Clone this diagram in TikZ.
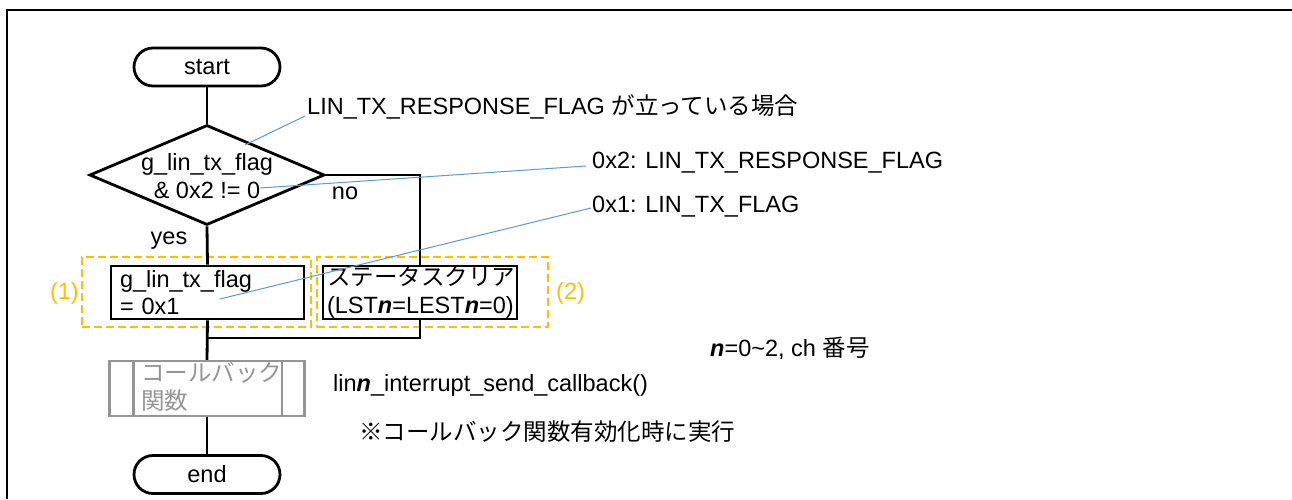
\documentclass[tikz,border=0pt]{standalone}
\usepackage{fontspec}
\setmainfont{Liberation Sans}
\newfontfamily\jp{Noto Sans CJK JP}
\usetikzlibrary{shapes.geometric}
\definecolor{flowblue}{HTML}{5B9BD5}
\definecolor{markorange}{HTML}{FFC000}
\definecolor{cbgray}{HTML}{959595}
\newcommand{\nvar}{\textbf{\textit{n}}}

\begin{document}
\begin{tikzpicture}[x=1pt,y=-1pt,
  every node/.style={font=\fontsize{23.5}{27.5}\selectfont, inner sep=0pt},
  flow/.style={line width=2.8pt},
  term/.style={draw, line width=2.8pt, rounded corners=19pt,
    minimum width=146pt, minimum height=38pt},
  decision/.style={draw, diamond, line width=2.8pt,
    minimum width=235pt, minimum height=100pt},
  proc/.style={draw, line width=2.8pt, minimum height=53pt, align=left},
  subproc/.style={draw=cbgray, line width=2.4pt, minimum width=195pt, minimum height=55pt},
  grp/.style={draw=markorange, line width=2.4pt, dash pattern=on 8pt off 4pt,
    minimum height=70pt},
  grplabel/.style={text=markorange},
  callout/.style={draw=flowblue, line width=1pt},
  note/.style={anchor=west, align=left}
]
\useasboundingbox (0,0) rectangle (1292,499);

% page frame (left and top edges)
\draw[line width=1.5pt] (7,499) -- (7,10) -- (1292,10);

% flowchart elements
\node[term] (start) at (207,67) {start};
\node[decision] (dec) at (207,175) {};
\node[align=center] (dectext) at (207,176) {g\_lin\_tx\_flag\\\& 0x2 != 0};

\node[proc, text width=175pt, inner xsep=9pt] (p1) at (207.5,292.5)
  {g\_lin\_tx\_flag\\= 0x1};
\node[proc, text width=186pt, inner xsep=4pt] (p2) at (420,292.5)
  {{\jp ステータスクリア}\\(LST\nvar=LEST\nvar=0)};

\node[subproc] (cb) at (207,388.5) {};
\draw[cbgray, line width=2.4pt] ([xshift=25pt]cb.north west) -- ([xshift=25pt]cb.south west);
\draw[cbgray, line width=2.4pt] ([xshift=-24pt]cb.north east) -- ([xshift=-24pt]cb.south east);
\node[note, text=cbgray] (cbtext) at (141,387) {{\jp コールバック}\\{\jp 関数}};

\node[term] (end) at (207,474.5) {end};

% dashed groups
\node[grp, minimum width=229pt] (g1) at (196.5,292) {};
\node[grp, minimum width=231pt] (g2) at (432.5,292) {};
\node[grplabel, anchor=east] (l1) at (79,293) {(1)};
\node[grplabel, anchor=west] (l2) at (556,293) {(2)};

% connectors
\coordinate (m) at (207,338);
\draw[flow] (start.south) -- (dec.north);
\draw[flow] (dec.south) -- (p1.north);
\draw[flow] (dec.east) -- (dec.east -| p2.north) -- (p2.north);
\draw[flow] (p1.south) -- (cb.north);
\draw[flow] (p2.south) |- (m);
\draw[flow] (cb.south) -- (end.north);

\node (yes) at (169,241) {yes};
\node (no) at (345,193) {no};

% annotations
\node[note] (t1) at (307,107) {LIN\_TX\_RESPONSE\_FLAG {\jp が立っている場合}};
\node[note] (t2) at (592,163) {0x2: LIN\_TX\_RESPONSE\_FLAG};
\node[note] (t3) at (592,207) {0x1: LIN\_TX\_FLAG};
\coordinate (a1) at (305,116);
\coordinate (b1) at (245,145);
\coordinate (a2) at (586,166);
\coordinate (b2) at (260,188);
\coordinate (a3) at (591,208);
\coordinate (b3) at (220,299);
\draw[callout] (a1) -- (b1);
\draw[callout] (a2) -- (b2);
\draw[callout] (a3) -- (b3);

\node[note] (nrange) at (710,348) {\nvar=0\textasciitilde2, ch {\jp 番号}};
\node[note] (cbname) at (333,385) {lin\nvar\_interrupt\_send\_callback()};
\node[note] (cbnote) at (359,432) {{\jp ※コールバック関数有効化時に実行}};
\end{tikzpicture}
\end{document}
